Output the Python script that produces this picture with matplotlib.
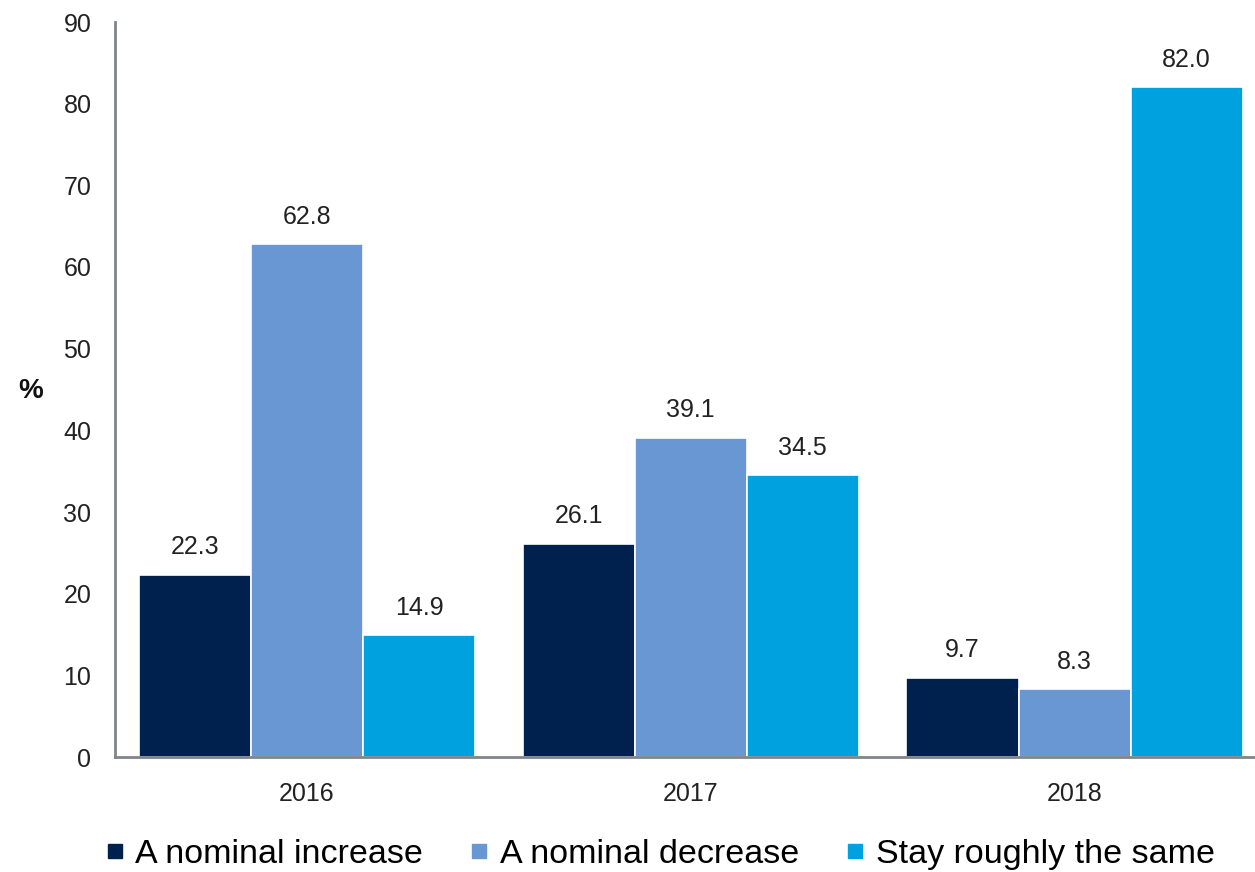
import matplotlib
matplotlib.use("Agg")
import matplotlib.pyplot as plt
import numpy as np
from matplotlib.lines import Line2D

plt.rcParams['font.family'] = ['Liberation Sans', 'DejaVu Sans']

years = ["2016", "2017", "2018"]
series_names = ["A nominal increase", "A nominal decrease", "Stay roughly the same"]
increase = [22.3, 26.1, 9.7]
decrease = [62.8, 39.1, 8.3]
same = [14.9, 34.5, 82.0]
colors = ["#00214D", "#6897D3", "#00A1DF"]

fig = plt.figure(figsize=(12.55, 8.72), dpi=100)
ax = fig.add_axes([115/1255, 1 - 757/872, 1140/1255, (757-22)/872])

x = np.arange(len(years))
w = 0.292
data = [increase, decrease, same]
for i, (vals, c, name) in enumerate(zip(data, colors, series_names)):
    pos = x + (i - 1) * w
    ax.bar(pos, vals, width=w, color=c, edgecolor="white", linewidth=1.2, label=name)
    for p, v in zip(pos, vals):
        ax.text(p, v + 1.9, f"{v:.1f}", ha="center", va="bottom", fontsize=18, color="#222222")

ax.set_xlim(-0.5, 2.47)
ax.set_ylim(0, 90)
ax.set_yticks(range(0, 91, 10))
ax.set_xticks(x)
ax.set_xticklabels(years)
ax.tick_params(axis="both", length=0, labelsize=18, colors="#222222")
ax.tick_params(axis="y", pad=17)
ax.tick_params(axis="x", pad=18)
for s in ["top", "right"]:
    ax.spines[s].set_visible(False)
for s in ["left", "bottom"]:
    ax.spines[s].set_color("#80858C")
    ax.spines[s].set_linewidth(2)

fig.text(31/1255, 1 - 391/872, "%", fontsize=20, fontweight="bold", ha="center", va="center", color="#111111")

handles = [Line2D([0], [0], marker="s", color="w", markerfacecolor=c, markeredgecolor=c, markersize=10, linestyle="None") for c in colors]
fig.legend(handles, series_names, loc="center", bbox_to_anchor=(0.525, 1 - 854/872), ncol=3, frameon=False,
           fontsize=24.5, handletextpad=0.25, columnspacing=1.3, handlelength=0.7)

fig.savefig("out.png", dpi=100)
